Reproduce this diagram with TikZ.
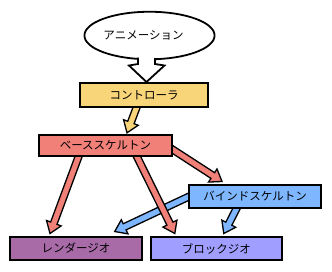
\documentclass[tikz,border=0pt]{standalone}
\usepackage{fontspec}
\setmainfont{Noto Sans CJK JP}
\usepackage{xcolor}
\usepackage{tikz}
\usetikzlibrary{positioning,calc,backgrounds,shapes.geometric}
\definecolor{ctrlyellow}{HTML}{F9D57A}
\definecolor{basesalmon}{HTML}{F08078}
\definecolor{bindblue}{HTML}{7EB6FF}
\definecolor{renderpurple}{HTML}{A86BA8}
\definecolor{blockviolet}{HTML}{A09EFF}
\tikzset{
  jointbox/.style={draw=black,line width=1.8pt,minimum height=23.2pt,inner sep=0pt,font=\fontsize{11.5}{14}\selectfont},
  fatline/.style={draw=black,line width=1.3pt,line join=miter},
  bubble/.style={draw=black,line width=1.8pt,fill=white,ellipse,inner sep=0pt,font=\fontsize{11.5}{14}\selectfont},
}
% broad arrow: from, tip, fill colour
\newcommand{\fatarrow}[3]{%
  \draw[fatline,fill=#3] let \p1=(#1), \p2=(#2), \n1={atan2(\y2-\y1,\x2-\x1)} in
    ($(\p1)+(\n1+90:3.4pt)$) -- ($(\p2)+(\n1:-11pt)+(\n1+90:3.4pt)$)
    -- ($(\p2)+(\n1:-11pt)+(\n1+90:7.8pt)$) -- (\p2)
    -- ($(\p2)+(\n1:-11pt)+(\n1-90:7.8pt)$) -- ($(\p2)+(\n1:-11pt)+(\n1-90:3.4pt)$)
    -- ($(\p1)+(\n1-90:3.4pt)$) -- cycle;}

\begin{document}
\begin{tikzpicture}[x=1pt,y=-1pt]
  \useasboundingbox (0,0) rectangle (332,271);
  \node[bubble,minimum width=112.5pt,minimum height=47.5pt] (anim) at (149.5,35.5) {アニメーション\hspace*{12pt}};
  % tail of the bubble
  \fill[white] ($(anim.center)+(-11.5,18)$) -- ($(anim.center)+(-11.5,28.5)$) -- ($(anim.center)+(-20.5,30)$)
    -- ($(anim.center)+(-3,46.5)$) -- ($(anim.center)+(15,30)$) -- ($(anim.center)+(5.5,28.5)$)
    -- ($(anim.center)+(5.5,18)$) -- cycle;
  \draw[line width=1.8pt,line join=miter] ($(anim.center)+(-11.5,22.2)$) -- ($(anim.center)+(-11.5,28.5)$) -- ($(anim.center)+(-20.5,30)$)
    -- ($(anim.center)+(-3,46.5)$) -- ($(anim.center)+(15,30)$) -- ($(anim.center)+(5.5,28.5)$)
    -- ($(anim.center)+(5.5,22.6)$);

  \node[jointbox,fill=ctrlyellow,minimum width=128.2pt,minimum height=24.2pt] (ctrl) at (144,95) {コントローラ};
  \node[jointbox,fill=basesalmon,minimum width=133.2pt,minimum height=21.6pt] (base) at (105.5,145.5) {ベーススケルトン};
  \node[jointbox,fill=bindblue,minimum width=132.2pt] (bind) at (255,196.5) {バインドスケルトン};
  \node[jointbox,fill=renderpurple,minimum width=132.2pt] (render) at (76,248.5) {レンダージオ};
  \node[jointbox,fill=blockviolet,minimum width=131.2pt,right=6.8pt of render] (block) {ブロックジオ};

  \begin{scope}[on background layer]
    \fatarrow{$(bind.west)+(5.3,-2)$}{$(render.north east)+(-28.3,-4.5)$}{bindblue}
    \fatarrow{$(bind.south)+(-17,-3.3)$}{$(block.north)+(7.5,-2.5)$}{bindblue}
    \fatarrow{$(base.south)+(-25.5,-4.5)$}{$(render.north)+(-26,-2.5)$}{basesalmon}
    \fatarrow{$(base.south)+(29.5,-4.5)$}{$(block.north)+(-41.5,-2.5)$}{basesalmon}
    \fatarrow{$(base.east)+(-7.3,-0.5)$}{$(bind.north)+(-33,-2.5)$}{basesalmon}
    \fatarrow{$(ctrl.south)+(-6,-4.3)$}{$(base.north)+(21.5,-1)$}{ctrlyellow}
  \end{scope}
\end{tikzpicture}
\end{document}
